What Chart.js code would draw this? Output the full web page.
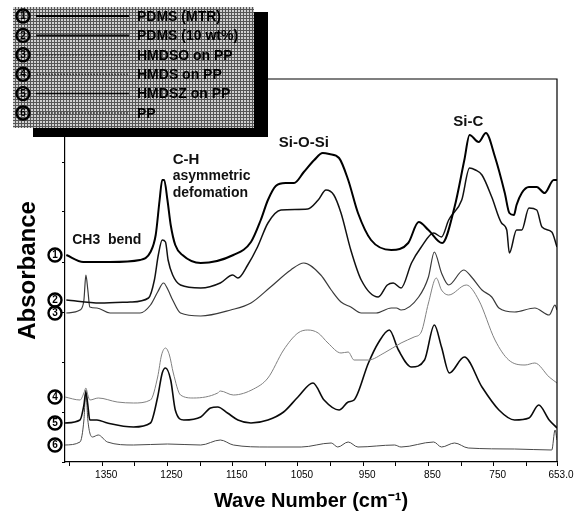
<!DOCTYPE html>
<html>
<head>
<meta charset="utf-8">
<script src="https://cdn.jsdelivr.net/npm/chart.js@4.4.0/dist/chart.umd.min.js"></script>
<style>
  body { margin: 0; background: #fff; }
  canvas { display: block; }
</style>
</head>
<body>
<canvas id="ftir" width="585" height="513"></canvas>
<script>
// sample names, top curve first
const names = ["PDMS (MTR)", "PDMS (10 wt%)", "HMDSO on PP", "HMDS on PP", "HMDSZ on PP", "PP"];
const marks = ["1", "2", "3", "4", "5", "6"];

// wave numbers (cm-1) and absorbance (offset, arbitrary units)
const wnMtr = [1405,1379,1338,1292,1276,1268,1262,1258,1255,1250,1245,1238,1227,1199,1149,1122,1107,1096,1084,1069,1056,1041,1025,1012,1002,987,973,958,938,907,881,865,850,829,810,795,787,773,762,748,733,726,719,715,707,696,684,672,658,653];
const abMtr = [2.07,2.00,2.00,2.02,2.10,2.27,2.62,2.82,2.82,2.62,2.37,2.17,2.07,1.99,2.07,2.20,2.42,2.62,2.76,2.79,2.79,2.90,3.02,3.09,3.08,3.04,2.82,2.49,2.22,2.12,2.19,2.40,2.32,2.19,2.55,3.02,3.27,3.20,3.29,3.05,2.69,2.49,2.47,2.57,2.69,2.75,2.75,2.69,2.82,2.82];

const wn10 = [1405,1353,1307,1279,1270,1264,1258,1253,1249,1242,1230,1199,1169,1150,1142,1127,1112,1096,1076,1035,1019,1007,995,984,969,953,927,913,904,892,876,861,842,830,819,799,787,778,768,753,738,730,726,715,707,696,684,676,661,653];
const ab10 = [1.62,1.59,1.60,1.64,1.82,2.07,2.22,2.20,2.02,1.87,1.77,1.74,1.79,1.87,1.84,1.97,2.15,2.39,2.52,2.53,2.62,2.72,2.67,2.49,2.12,1.82,1.65,1.77,1.79,1.74,1.99,2.15,2.29,2.25,2.42,2.62,2.94,2.92,2.87,2.65,2.39,2.32,2.09,2.32,2.32,2.54,2.52,2.35,2.30,2.15];

const wnHmdso = [1405,1384,1378,1375,1372,1369,1358,1338,1292,1276,1265,1256,1249,1242,1230,1199,1153,1122,1092,1061,1041,1015,999,984,969,953,930,907,899,892,865,850,841,830,819,796,784,768,753,742,718,687,665,656,653];
const abHmdso = [1.49,1.52,1.62,1.87,1.72,1.55,1.54,1.49,1.49,1.57,1.70,1.79,1.72,1.62,1.49,1.46,1.52,1.59,1.75,1.92,1.99,1.87,1.72,1.60,1.55,1.49,1.49,1.54,1.54,1.52,1.65,1.85,2.10,1.89,1.77,1.92,1.85,1.72,1.65,1.54,1.50,1.54,1.47,1.57,1.52];

const wnHmds = [1407,1384,1378,1375,1372,1369,1356,1327,1302,1276,1265,1259,1253,1247,1241,1230,1210,1173,1169,1149,1118,1096,1072,1050,1035,1019,1004,984,973,964,942,918,892,872,861,850,838,830,819,792,773,748,727,702,687,665,653];
const abHmds = [0.65,0.62,0.69,0.74,0.67,0.62,0.64,0.60,0.59,0.62,0.85,1.07,1.14,1.07,0.89,0.67,0.64,0.69,0.71,0.67,0.73,0.84,1.12,1.29,1.32,1.29,1.19,1.09,1.10,1.02,1.02,1.09,1.19,1.25,1.30,1.59,1.84,1.72,1.67,1.77,1.62,1.22,1.02,0.97,0.99,0.85,0.79];

const wnHmdsz = [1407,1384,1378,1375,1372,1369,1358,1342,1302,1276,1265,1258,1253,1245,1238,1225,1199,1184,1173,1158,1142,1122,1096,1072,1050,1027,1010,987,973,964,942,927,910,896,876,856,841,830,818,795,768,742,718,696,681,665,653];
const abHmdsz = [0.39,0.42,0.57,0.70,0.57,0.42,0.42,0.39,0.35,0.39,0.65,0.89,0.94,0.82,0.52,0.42,0.45,0.54,0.55,0.49,0.42,0.39,0.42,0.50,0.65,0.79,0.62,0.52,0.60,0.62,0.99,1.19,1.32,1.12,0.95,1.02,1.37,1.15,0.89,1.05,0.75,0.52,0.42,0.44,0.57,0.42,0.34];

const wnPp = [1407,1384,1378,1375,1372,1365,1356,1342,1302,1250,1199,1169,1149,1096,1045,999,989,973,958,902,892,842,830,810,789,718,661,656,653];
const abPp = [0.17,0.20,0.42,0.72,0.42,0.25,0.27,0.20,0.17,0.18,0.17,0.22,0.17,0.15,0.15,0.19,0.15,0.20,0.15,0.17,0.15,0.20,0.15,0.19,0.14,0.13,0.12,0.32,0.22];

// x axis ticks every 50, labels every 100
const tickValues = [1400,1350,1300,1250,1200,1150,1100,1050,1000,950,900,850,800,750,700,653];
const tickLabels = ["","1350","","1250","","1150","","1050","","950","","850","","750","","653.0"];

// band notes: text, wave number, absorbance level, alignment
const notes = [
  ["CH3  bend", 1396, 2.22, "left"],
  ["C-H", 1242, 3.02, "left"],
  ["asymmetric", 1242, 2.86, "left"],
  ["defomation", 1242, 2.69, "left"],
  ["Si-O-Si", 1041, 3.19, "center"],
  ["Si-C", 789, 3.40, "center"],
];

const xs = [wnMtr, wn10, wnHmdso, wnHmds, wnHmdsz, wnPp];
const ys = [abMtr, ab10, abHmdso, abHmds, abHmdsz, abPp];
const colors = ["#000", "#111", "#3a3a3a", "#808080", "#0a0a0a", "#4a4a4a"];
const widths = [2, 1.5, 1.2, 1, 1.6, 1];
const dashed = [false, false, true, true, false, true];

Chart.defaults.font.family = "'Liberation Sans', Arial, sans-serif";
Chart.defaults.color = "#000";

function circled(ctx, cx, cy, txt, r) {
  ctx.beginPath();
  ctx.arc(cx, cy, r, 0, Math.PI * 2);
  ctx.lineWidth = 2.4;
  ctx.strokeStyle = "#000";
  ctx.stroke();
  ctx.font = "bold " + Math.round(r * 1.6) + "px 'Liberation Sans', Arial, sans-serif";
  ctx.fillStyle = "#000";
  ctx.textAlign = "center";
  ctx.textBaseline = "middle";
  ctx.fillText(txt, cx, cy + 0.5);
}

function greyPattern(ctx) {
  const c = document.createElement("canvas");
  c.width = 3; c.height = 3;
  const g = c.getContext("2d");
  g.fillStyle = "#d0d0d0";
  g.fillRect(0, 0, 3, 3);
  g.fillStyle = "#555";
  g.fillRect(0, 0, 3, 1);
  g.fillRect(0, 0, 1, 3);
  return ctx.createPattern(c, "repeat");
}

const decor = {
  id: "decor",
  afterDraw(chart) {
    const { ctx, chartArea: a, scales: { x, y } } = chart;
    ctx.save();

    // top and right frame
    ctx.strokeStyle = "#000";
    ctx.lineWidth = 1.2;
    ctx.beginPath();
    ctx.moveTo(a.left, a.top);
    ctx.lineTo(a.right, a.top);
    ctx.lineTo(a.right, a.bottom);
    ctx.stroke();

    // band notes
    ctx.fillStyle = "#111";
    ctx.textBaseline = "middle";
    notes.forEach(([t, wn, v, al], i) => {
      ctx.font = (i === 2 || i === 3 || i === 0 ? "bold 14px " : "bold 15px ") + "'Liberation Sans', Arial, sans-serif";
      ctx.textAlign = al;
      ctx.fillText(t, x.getPixelForValue(wn), y.getPixelForValue(v));
    });

    // circled numbers at the start of each curve
    chart.data.datasets.forEach((ds, i) => {
      circled(ctx, 55, y.getPixelForValue(ds.data[0].y), marks[i], 6.5);
    });

    // legend box with shadow
    ctx.fillStyle = "#000";
    ctx.fillRect(33, 12, 235, 125);
    ctx.fillStyle = greyPattern(ctx);
    ctx.fillRect(13, 7, 241, 121);
    names.forEach((n, i) => {
      const ry = 16 + i * 19.4;
      circled(ctx, 23, ry, marks[i], 6.5);
      ctx.beginPath();
      ctx.setLineDash(dashed[i] ? [2, 1] : []);
      ctx.strokeStyle = i === 3 ? "#444" : colors[i];
      ctx.lineWidth = i < 2 ? 2 : 1.5;
      ctx.moveTo(36, ry);
      ctx.lineTo(129, ry);
      ctx.stroke();
      ctx.setLineDash([]);
      ctx.font = "bold 14px 'Liberation Sans', Arial, sans-serif";
      ctx.fillStyle = "#000";
      ctx.textAlign = "left";
      ctx.textBaseline = "middle";
      ctx.fillText(n, 137, ry + 1);
    });
    ctx.restore();
  }
};

new Chart(document.getElementById("ftir"), {
  type: "line",
  data: {
    datasets: names.map((n, i) => ({
      label: n,
      data: xs[i].map((w, k) => ({ x: w, y: ys[i][k] })),
      borderColor: colors[i],
      borderWidth: widths[i],
      pointRadius: 0,
      fill: false,
      cubicInterpolationMode: "monotone",
    })),
  },
  options: {
    responsive: false,
    animation: false,
    layout: { padding: { top: 79, right: 28, left: 0, bottom: 0 } },
    plugins: { legend: { display: false }, tooltip: { enabled: false } },
    scales: {
      x: {
        type: "linear",
        reverse: true,
        min: 653,
        max: 1407,
        afterBuildTicks: (s) => { s.ticks = tickValues.map((v) => ({ value: v })); },
        afterFit: (s) => { s.height = 51; },
        ticks: {
          autoSkip: false,
          maxRotation: 0,
          padding: 3,
          labelOffset: 4,
          font: { size: 10 },
          color: "#000",
          callback: (v, i) => tickLabels[i],
        },
        grid: { drawOnChartArea: false, tickLength: 4, color: "#000" },
        border: { color: "#000", width: 1.2 },
        title: {
          display: true,
          text: "Wave Number (cm⁻¹)",
          font: { size: 20, weight: "bold" },
          color: "#000",
          padding: { top: 0, bottom: 0 },
        },
      },
      y: {
        min: 0,
        max: 3.83,
        afterFit: (s) => { s.width = 65; },
        ticks: { display: false, stepSize: 0.5 },
        grid: { drawOnChartArea: false, tickLength: 3, color: "#000" },
        border: { color: "#000", width: 1.2 },
        title: {
          display: true,
          text: "Absorbance",
          font: { size: 24, weight: "bold" },
          color: "#000",
          padding: { top: 14, bottom: 0 },
        },
      },
    },
  },
  plugins: [decor],
});
</script>
</body>
</html>
